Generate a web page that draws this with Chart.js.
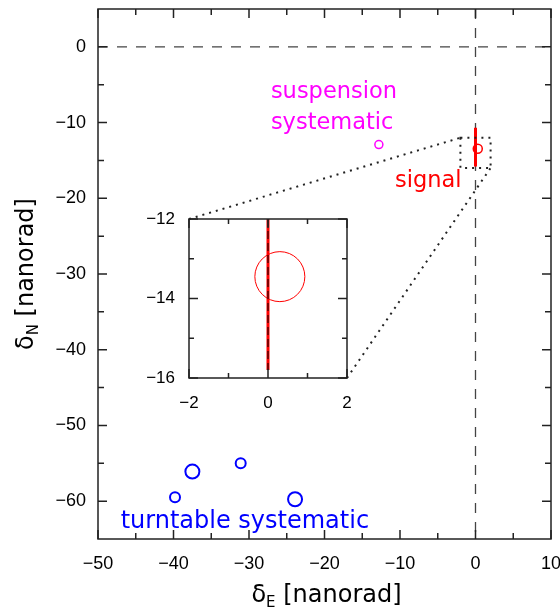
<!DOCTYPE html>
<html>
<head>
<meta charset="utf-8">
<script src="https://cdn.jsdelivr.net/npm/chart.js@4.4.0/dist/chart.umd.min.js"></script>
<style>
html, body { margin: 0; padding: 0; background: #fff; }
#wrap { position: relative; width: 560px; height: 613px; }
#wrap canvas { position: absolute; left: 0; top: 0; }
</style>
</head>
<body>
<div id="wrap">
  <canvas id="main" width="560" height="613"></canvas>
  <canvas id="inset" width="560" height="613"></canvas>
</div>
<script>
// valeurs (nanorad)
const turntableX = [-39.8, -37.5, -31.1, -23.9];
const turntableY = [-59.5, -56.1, -55.0, -59.75];
const suspensionX = [-12.8];
const suspensionY = [-12.9];
const signalX = [0.3];
const signalY = [-13.45];
const signalBarY = [-10.7, -15.8];

const mainXTicks = [-50, -40, -30, -20, -10, 0, 10];
const mainYTicks = [-60, -50, -40, -30, -20, -10, 0];
const insetXTicks = [-2, 0, 2];
const insetYTicks = [-16, -14, -12];

const TICK_FONT = "Liberation Sans";
const TEXT_FONT = "DejaVu Sans";

function pts(xs, ys) {
  return xs.map((x, i) => ({ x, y: ys[i] }));
}

function fmt(v) {
  return String(v).replace("-", "\u2212");
}

// petits traits de graduation tournés vers l'intérieur
function drawFrameAndTicks(chart, xTicks, yTicks, majorLen, minorLen) {
  const { ctx, chartArea: a, scales } = chart;
  const mids = (arr) => arr.slice(1).map((v, i) => (v + arr[i]) / 2);
  ctx.save();
  ctx.strokeStyle = "#222";
  ctx.lineWidth = 1.5;
  ctx.beginPath();
  const tick = (v, len) => {
    const px = scales.x.getPixelForValue(v);
    ctx.moveTo(px, a.bottom); ctx.lineTo(px, a.bottom - len);
    ctx.moveTo(px, a.top); ctx.lineTo(px, a.top + len);
  };
  const tickY = (v, len) => {
    const py = scales.y.getPixelForValue(v);
    ctx.moveTo(a.left, py); ctx.lineTo(a.left + len, py);
    ctx.moveTo(a.right, py); ctx.lineTo(a.right - len, py);
  };
  xTicks.forEach((v) => tick(v, majorLen));
  mids(xTicks).forEach((v) => tick(v, minorLen));
  yTicks.forEach((v) => tickY(v, majorLen));
  mids(yTicks).forEach((v) => tickY(v, minorLen));
  ctx.stroke();
  ctx.strokeRect(a.left, a.top, a.right - a.left, a.bottom - a.top);
  ctx.restore();
}

function dotted(ctx) {
  ctx.strokeStyle = "#222";
  ctx.lineWidth = 2;
  ctx.setLineDash([2, 5]);
}

function noPad(s) {
  s.paddingLeft = 0;
  s.paddingRight = 0;
  s.paddingTop = 0;
  s.paddingBottom = 0;
}

const mainPlugin = {
  id: "mainDecor",
  beforeDatasetsDraw(chart) {
    const { ctx, chartArea: a, scales } = chart;
    const x0 = scales.x.getPixelForValue(0);
    const y0 = scales.y.getPixelForValue(0);
    ctx.save();
    ctx.strokeStyle = "#444";
    ctx.lineWidth = 1.3;
    ctx.setLineDash([10, 9]);
    ctx.beginPath();
    ctx.moveTo(a.left, y0); ctx.lineTo(a.right, y0);
    ctx.moveTo(x0, a.top); ctx.lineTo(x0, a.bottom);
    ctx.stroke();
    ctx.restore();
  },
  afterDatasetsDraw(chart) {
    const { ctx, chartArea: a, scales } = chart;
    drawFrameAndTicks(chart, mainXTicks, mainYTicks, 9, 6);

    // cadre du zoom
    const zx1 = scales.x.getPixelForValue(insetXTicks[0]);
    const zx2 = scales.x.getPixelForValue(insetXTicks[insetXTicks.length - 1]);
    const zy1 = scales.y.getPixelForValue(insetYTicks[insetYTicks.length - 1]);
    const zy2 = scales.y.getPixelForValue(insetYTicks[0]);
    ctx.save();
    dotted(ctx);
    ctx.strokeRect(zx1, zy1, zx2 - zx1, zy2 - zy1);
    ctx.restore();

    // étiquettes
    const labels = [
      { text: "suspension", x: -27.1, y: -6.7, color: "#ff00ff", size: 22.5 },
      { text: "systematic", x: -27.1, y: -10.85, color: "#ff00ff", size: 22.5 },
      { text: "signal", x: -10.66, y: -18.45, color: "#ff0000", size: 22.5 },
      { text: "turntable systematic", x: -47.0, y: -63.6, color: "#0000ff", size: 24 },
    ];
    ctx.save();
    ctx.textAlign = "left";
    ctx.textBaseline = "alphabetic";
    labels.forEach((l) => {
      ctx.font = l.size + "px '" + TEXT_FONT + "'";
      ctx.fillStyle = l.color;
      ctx.fillText(l.text, scales.x.getPixelForValue(l.x), scales.y.getPixelForValue(l.y));
    });
    ctx.restore();

    // titres des axes avec indice
    const drawTitle = (sym, sub, rest, cx, base) => {
      ctx.font = "24px '" + TEXT_FONT + "'";
      const w1 = ctx.measureText(sym).width;
      const w3 = ctx.measureText(rest).width;
      ctx.font = "15px '" + TEXT_FONT + "'";
      const w2 = ctx.measureText(sub).width;
      let x = cx - (w1 + w2 + w3) / 2;
      ctx.fillStyle = "#000";
      ctx.textAlign = "left";
      ctx.textBaseline = "alphabetic";
      ctx.font = "24px '" + TEXT_FONT + "'";
      ctx.fillText(sym, x, base);
      x += w1;
      ctx.font = "15px '" + TEXT_FONT + "'";
      ctx.fillText(sub, x, base + 5);
      x += w2;
      ctx.font = "24px '" + TEXT_FONT + "'";
      ctx.fillText(rest, x, base);
    };
    ctx.save();
    drawTitle("\u03b4", "E", " [nanorad]", (a.left + a.right) / 2 + 2, 601.5);
    ctx.restore();
    ctx.save();
    ctx.translate(33, (a.top + a.bottom) / 2);
    ctx.rotate(-Math.PI / 2);
    drawTitle("\u03b4", "N", " [nanorad]", 0, 0);
    ctx.restore();
  },
};

function axisTicks(size, padding) {
  return {
    font: { family: TICK_FONT, size },
    color: "#000",
    padding,
    autoSkip: false,
    maxRotation: 0,
    callback: fmt,
  };
}

const mainChart = new Chart(document.getElementById("main"), {
  type: "scatter",
  data: {
    datasets: [
      {
        data: pts(turntableX, turntableY),
        borderColor: "#0000ff",
        backgroundColor: "rgba(0,0,0,0)",
        borderWidth: 2,
        pointRadius: [5, 7, 5, 7],
      },
      {
        data: pts(suspensionX, suspensionY),
        borderColor: "#ff00ff",
        backgroundColor: "rgba(0,0,0,0)",
        borderWidth: 1.5,
        pointRadius: 4,
      },
      {
        data: pts([0, 0], signalBarY),
        showLine: true,
        borderColor: "#ff0000",
        borderWidth: 3,
        pointRadius: 0,
      },
      {
        data: pts(signalX, signalY),
        borderColor: "#ff0000",
        backgroundColor: "rgba(0,0,0,0)",
        borderWidth: 1.5,
        pointRadius: 4.5,
      },
    ],
  },
  options: {
    responsive: false,
    animation: false,
    events: [],
    layout: { padding: { top: 4, right: 9, left: 0, bottom: 0 } },
    plugins: { legend: { display: false }, tooltip: { enabled: false } },
    scales: {
      x: {
        type: "linear",
        min: -50,
        max: 10,
        grid: { display: false, drawTicks: false },
        border: { display: false },
        afterBuildTicks: (s) => { s.ticks = mainXTicks.map((v) => ({ value: v })); },
        afterFit: (s) => { s.height = 74; noPad(s); },
        ticks: axisTicks(18, 14),
      },
      y: {
        type: "linear",
        min: -65,
        max: 5,
        grid: { display: false, drawTicks: false },
        border: { display: false },
        afterBuildTicks: (s) => { s.ticks = mainYTicks.map((v) => ({ value: v })); },
        afterFit: (s) => { s.width = 98; noPad(s); },
        ticks: axisTicks(18, 12),
      },
    },
  },
  plugins: [mainPlugin],
});

const insetPlugin = {
  id: "insetDecor",
  beforeDraw(chart) {
    const { ctx, chartArea: a } = chart;
    ctx.save();
    ctx.fillStyle = "#fff";
    ctx.fillRect(a.left, a.top, a.right - a.left, a.bottom - a.top);
    ctx.restore();
  },
  afterDatasetsDraw(chart) {
    const { ctx, chartArea: a, scales } = chart;
    const x0 = scales.x.getPixelForValue(0);
    ctx.save();
    ctx.beginPath();
    ctx.rect(a.left, a.top, a.right - a.left, a.bottom - a.top);
    ctx.clip();
    ctx.strokeStyle = "#500";
    ctx.lineWidth = 1.5;
    ctx.setLineDash([8, 4]);
    ctx.beginPath();
    ctx.moveTo(x0, a.top);
    ctx.lineTo(x0, scales.y.getPixelForValue(signalBarY[1]));
    ctx.stroke();
    ctx.restore();

    drawFrameAndTicks(chart, insetXTicks, insetYTicks, 9, 5);

    // lignes de rappel vers le cadre du graphique principal
    const mx = mainChart.scales.x, my = mainChart.scales.y;
    ctx.save();
    dotted(ctx);
    ctx.beginPath();
    ctx.moveTo(a.left, a.top);
    ctx.lineTo(mx.getPixelForValue(insetXTicks[0]), my.getPixelForValue(insetYTicks[insetYTicks.length - 1]));
    ctx.moveTo(a.right, a.bottom);
    ctx.lineTo(mx.getPixelForValue(insetXTicks[insetXTicks.length - 1]), my.getPixelForValue(insetYTicks[0]));
    ctx.stroke();
    ctx.restore();
  },
};

new Chart(document.getElementById("inset"), {
  type: "scatter",
  data: {
    datasets: [
      {
        data: pts([0, 0], signalBarY),
        showLine: true,
        borderColor: "#ff0000",
        borderWidth: 3,
        pointRadius: 0,
      },
      {
        data: pts(signalX, signalY),
        borderColor: "#ff0000",
        backgroundColor: "rgba(0,0,0,0)",
        borderWidth: 1,
        pointRadius: 25,
      },
    ],
  },
  options: {
    responsive: false,
    animation: false,
    events: [],
    layout: { padding: { top: 219, right: 213, left: 0, bottom: 205 } },
    plugins: { legend: { display: false }, tooltip: { enabled: false } },
    scales: {
      x: {
        type: "linear",
        min: insetXTicks[0],
        max: insetXTicks[insetXTicks.length - 1],
        grid: { display: false, drawTicks: false },
        border: { display: false },
        afterBuildTicks: (s) => { s.ticks = insetXTicks.map((v) => ({ value: v })); },
        afterFit: (s) => { s.height = 30; noPad(s); },
        ticks: axisTicks(17, 15),
      },
      y: {
        type: "linear",
        min: insetYTicks[0],
        max: insetYTicks[insetYTicks.length - 1],
        grid: { display: false, drawTicks: false },
        border: { display: false },
        afterBuildTicks: (s) => { s.ticks = insetYTicks.map((v) => ({ value: v })); },
        afterFit: (s) => { s.width = 189; noPad(s); },
        ticks: axisTicks(17, 14),
      },
    },
  },
  plugins: [insetPlugin],
});
</script>
</body>
</html>
